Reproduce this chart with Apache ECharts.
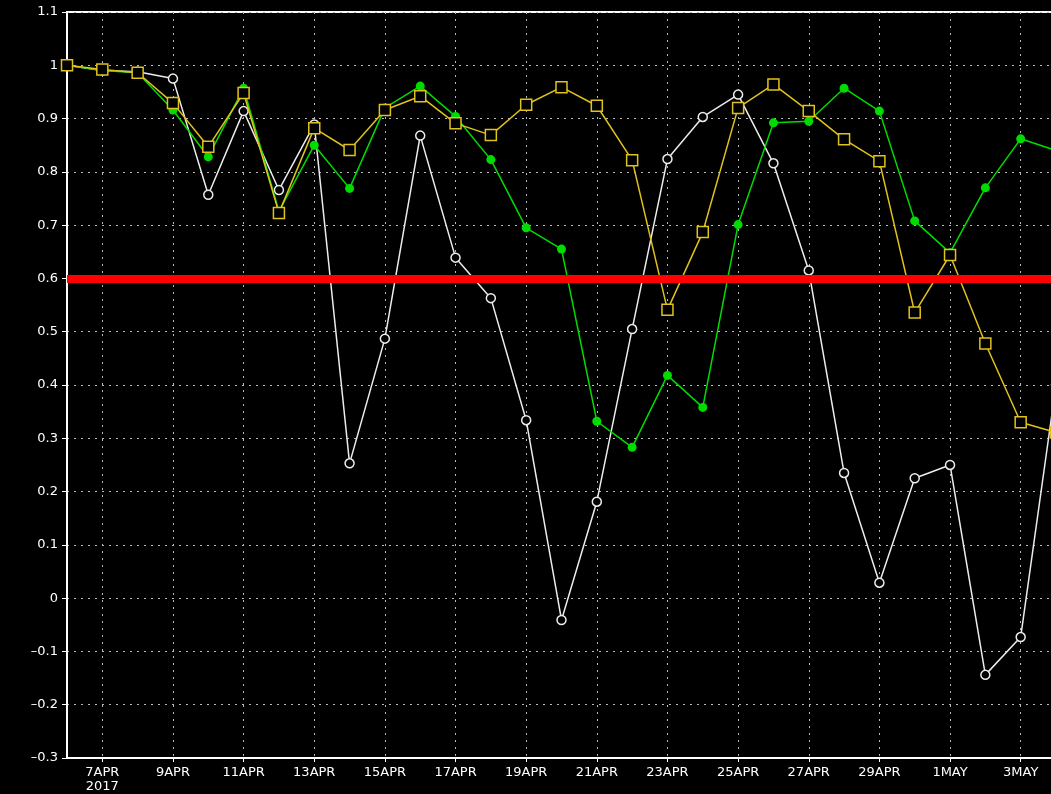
<!DOCTYPE html>
<html>
<head>
<meta charset="utf-8">
<script src="https://cdn.jsdelivr.net/npm/echarts@6/dist/echarts.min.js"></script>
<style>
html,body{margin:0;padding:0;background:#000;overflow:hidden;width:1051px;height:794px;}
#chart{width:1062px;height:794px;}
</style>
</head>
<body>
<div id="chart"></div>
<script>
const dates = ['6APR','7APR','8APR','9APR','10APR','11APR','12APR','13APR','14APR','15APR','16APR','17APR','18APR','19APR','20APR','21APR','22APR','23APR','24APR','25APR','26APR','27APR','28APR','29APR','30APR','1MAY','2MAY','3MAY','4MAY'];
const yearLabel = '2017';
const whiteSeries = [1.0,0.99,0.988,0.975,0.757,0.914,0.766,0.889,0.253,0.487,0.868,0.639,0.563,0.334,-0.041,0.181,0.505,0.824,0.903,0.945,0.816,0.615,0.235,0.029,0.225,0.25,-0.144,-0.073,0.40];
const greenSeries = [1.0,0.99,0.986,0.916,0.828,0.957,0.726,0.85,0.769,0.92,0.961,0.904,0.823,0.695,0.655,0.332,0.283,0.418,0.358,0.701,0.892,0.895,0.957,0.914,0.708,0.648,0.77,0.862,0.84];
const yellowSeries = [1.0,0.992,0.986,0.929,0.847,0.948,0.723,0.882,0.841,0.916,0.942,0.891,0.869,0.926,0.959,0.924,0.822,0.541,0.687,0.92,0.964,0.914,0.861,0.82,0.536,0.644,0.478,0.33,0.311];
const threshold = 0.6;

const chart = echarts.init(document.getElementById('chart'), null, {renderer: 'canvas'});
const oddIdx = (i) => i % 2 === 1;
const gridLine = {color: '#b8b8b8', width: 1, type: [2, 5]};
const WHITE = '#ececec', GREEN = '#00dc00', YELLOW = '#e0c21c';

chart.setOption({
  backgroundColor: '#000',
  animation: false,
  grid: {left: 67, top: 12, width: 989, height: 746, show: true, borderColor: '#ffffff', borderWidth: 2, backgroundColor: '#000'},
  xAxis: {
    type: 'category',
    data: dates,
    boundaryGap: false,
    axisLine: {onZero: false, lineStyle: {color: '#ffffff', width: 2}},
    axisTick: {show: true, interval: oddIdx, length: 4, lineStyle: {color: '#ffffff'}},
    axisLabel: {
      interval: oddIdx, color: '#ffffff', fontSize: 13, fontFamily: 'DejaVu Sans', margin: 8, lineHeight: 14,
      formatter: (v, i) => i === 1 ? v + '\n' + yearLabel : v
    },
    splitLine: {show: true, interval: oddIdx, lineStyle: gridLine}
  },
  yAxis: {
    type: 'value', min: -0.3, max: 1.1, interval: 0.1,
    axisLine: {show: true, onZero: false, lineStyle: {color: '#ffffff', width: 2}},
    axisTick: {show: true, length: 5, lineStyle: {color: '#ffffff'}},
    axisLabel: {
      color: '#ffffff', fontSize: 13, fontFamily: 'DejaVu Sans', margin: 9,
      formatter: (v) => (Math.round(v * 10) / 10).toString().replace('-', '\u2013')
    },
    splitLine: {show: true, lineStyle: gridLine}
  },
  series: [
    {
      type: 'line', data: whiteSeries, z: 2,
      symbol: 'circle', symbolSize: 9,
      lineStyle: {color: WHITE, width: 1.5},
      itemStyle: {color: '#000', borderColor: WHITE, borderWidth: 1.5}
    },
    {
      type: 'line', data: greenSeries, z: 3,
      symbol: 'circle', symbolSize: 9,
      lineStyle: {color: GREEN, width: 1.5},
      itemStyle: {color: GREEN}
    },
    {
      type: 'line', data: yellowSeries, z: 4,
      symbol: 'rect', symbolSize: 11,
      lineStyle: {color: YELLOW, width: 1.5},
      itemStyle: {color: '#000', borderColor: YELLOW, borderWidth: 1.5}
    },
    {
      type: 'line', data: [], z: 10,
      markLine: {
        silent: true, symbol: 'none', animation: false,
        label: {show: false},
        lineStyle: {color: '#ff0000', width: 8, type: 'solid'},
        data: [{yAxis: threshold}]
      }
    }
  ]
});
</script>
</body>
</html>
